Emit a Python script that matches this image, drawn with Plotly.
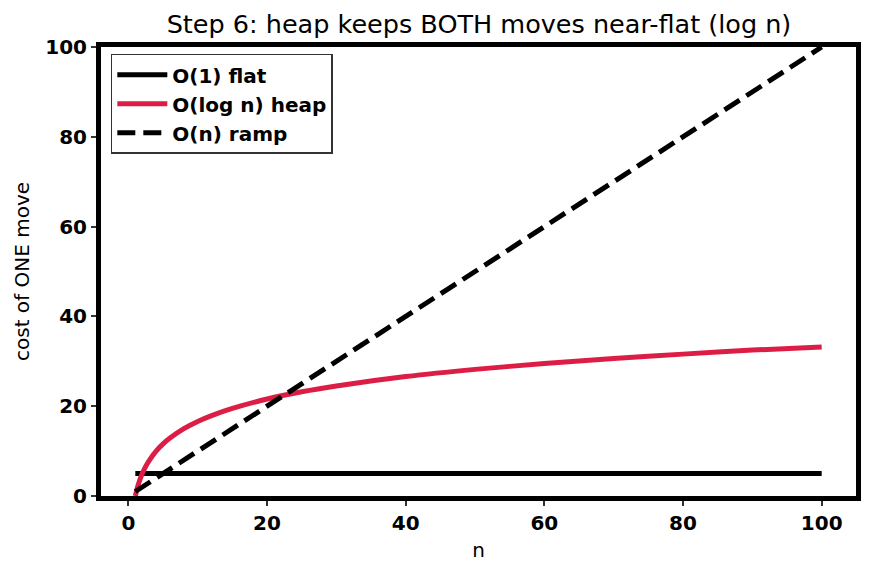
import plotly.graph_objects as go

n_flat = [1, 100]
flat_cost = [5, 5]

n_heap = [1, 1.25, 1.5, 2, 2.5, 3, 4, 5, 6, 8, 10, 12, 15, 20, 25, 30, 40, 50, 60, 70, 80, 90, 100]
heap_cost = [0, 1.6, 2.9, 5.0, 6.6, 7.9, 10.0, 11.6, 12.9, 15.0, 16.6, 17.9, 19.5, 21.6, 23.2, 24.5,
             26.6, 28.2, 29.5, 30.6, 31.6, 32.5, 33.2]

n_ramp = [1, 100]
ramp_cost = [1, 100]

x_ticks = [0, 20, 40, 60, 80, 100]
y_ticks = [0, 20, 40, 60, 80, 100]

FONT = "DejaVu Sans"

fig = go.Figure()
fig.add_trace(go.Scatter(x=n_flat, y=flat_cost, mode="lines", name="O(1) flat",
                         line=dict(color="black", width=5)))
fig.add_trace(go.Scatter(x=n_heap, y=heap_cost, mode="lines", name="O(log n) heap",
                         line=dict(color="#dc1e46", width=5, shape="spline", smoothing=0.6)))
fig.add_trace(go.Scatter(x=n_ramp, y=ramp_cost, mode="lines", name="O(n) ramp",
                         line=dict(color="black", width=5, dash="18px,8px")))

axis_common = dict(
    showgrid=False, zeroline=False, showline=True, linecolor="black", linewidth=5,
    mirror=True, ticks="outside", ticklen=5, tickwidth=1.5, tickcolor="#333",
    tickfont=dict(family=FONT, size=20, color="black", weight="bold"),
)

fig.update_layout(
    width=873, height=573,
    margin=dict(l=101, r=17, t=47, b=77),
    paper_bgcolor="white", plot_bgcolor="white",
    font=dict(family=FONT, color="black"),
    title=dict(text="Step 6: heap keeps BOTH moves near-flat (log n)",
               font=dict(family=FONT, size=25.5, color="black"),
               x=(100 + 858) / 2 / 873, xanchor="center", y=1 - 24 / 573, yanchor="middle"),
    xaxis=dict(range=[-3.95, 104.95], tickvals=x_ticks,
               title=dict(text="n", font=dict(family=FONT, size=20), standoff=10), **axis_common),
    yaxis=dict(range=[0, 100], tickvals=y_ticks,
               title=dict(text="cost of ONE move", font=dict(family=FONT, size=20), standoff=12),
               **axis_common),
    legend=dict(x=0.013, y=0.985, xanchor="left", yanchor="top",
                bgcolor="rgba(255,255,255,0.9)", bordercolor="#333", borderwidth=1.5,
                font=dict(family=FONT, size=20, color="black", weight="bold"),
                itemwidth=50, tracegroupgap=2),
    showlegend=True,
)

fig.write_html("out.html")
